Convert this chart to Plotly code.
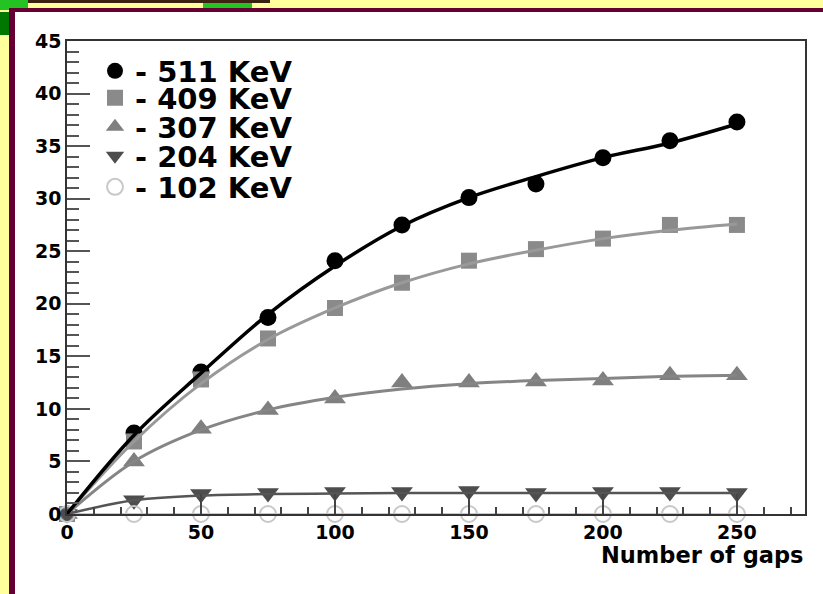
import plotly.graph_objects as go

# Measured signal vs. number of gaps, one series per photon energy
gaps = [0, 25, 50, 75, 100, 125, 150, 175, 200, 225, 250]

labels = ["- 511 KeV", "- 409 KeV", "- 307 KeV", "- 204 KeV", "- 102 KeV"]

pts_511 = [0, 7.7, 13.5, 18.7, 24.1, 27.5, 30.1, 31.4, 33.9, 35.5, 37.3]
pts_409 = [0, 6.9, 12.8, 16.7, 19.6, 22.0, 24.1, 25.2, 26.2, 27.5, 27.5]
pts_307 = [0, 5.0, 8.1, 9.9, 11.0, 12.5, 12.5, 12.6, 12.7, 13.2, 13.2]
pts_204 = [0, 1.3, 1.9, 2.0, 2.1, 2.1, 2.2, 2.0, 2.1, 2.1, 2.0]
pts_102 = [0, 0, 0, 0, 0, 0, 0, 0, 0, 0, 0]

# Fitted curves, sampled at the same gap counts
fit_511 = [0, 7.5, 13.4, 19.0, 23.6, 27.4, 30.1, 32.1, 33.9, 35.3, 37.1]
fit_409 = [0, 6.9, 12.4, 16.6, 19.6, 22.0, 23.8, 25.1, 26.2, 27.0, 27.6]
fit_307 = [0, 5.0, 8.0, 9.9, 11.1, 11.9, 12.4, 12.7, 12.9, 13.1, 13.2]
fit_204 = [0, 1.3, 1.75, 1.9, 1.95, 2.0, 2.0, 2.0, 2.0, 2.0, 2.0]
fit_102 = [0, 0, 0, 0, 0, 0, 0, 0, 0, 0, 0]

points = [pts_511, pts_409, pts_307, pts_204, pts_102]
fits = [fit_511, fit_409, fit_307, fit_204, fit_102]

marker_styles = [
    dict(symbol="circle", color="#000000", size=17),
    dict(symbol="square", color="#8a8a8a", size=16),
    dict(symbol="triangle-up", color="#7f7f7f", size=19),
    dict(symbol="triangle-down", color="#4d4d4d", size=19),
    dict(symbol="circle-open", color="#c8c8c8", size=16, line=dict(width=2, color="#c8c8c8")),
]
line_styles = [
    dict(color="#000000", width=3.5),
    dict(color="#999999", width=3),
    dict(color="#858585", width=3),
    dict(color="#555555", width=2.5),
    dict(color="#c8c8c8", width=2),
]

W, H = 823, 594
L, R, T, B = 67, 805, 41, 514


def px_x(px):
    return (px - L) / (R - L)


def px_y(py):
    return (B - py) / (B - T)


fig = go.Figure()

legend_names = ["legend", "legend2", "legend3", "legend4", "legend5"]

for i in range(5):
    fig.add_trace(go.Scatter(
        x=gaps, y=points[i], mode="markers", name=labels[i],
        marker=marker_styles[i], legend=legend_names[i], cliponaxis=False,
    ))

for i in reversed(range(5)):
    fig.add_trace(go.Scatter(
        x=gaps, y=fits[i], mode="lines", line=dict(shape="spline", smoothing=1.0, **line_styles[i]),
        showlegend=False, hoverinfo="skip",
    ))

legend_font = dict(family="DejaVu Sans", size=29, color="#000000", weight="bold")
row_centres = [71, 98, 127, 156, 187]
legend_cfg = {}
for name, cy in zip(legend_names, row_centres):
    legend_cfg[name] = dict(
        x=px_x(95), y=px_y(cy), xanchor="left", yanchor="middle",
        bgcolor="rgba(0,0,0,0)", borderwidth=0, font=legend_font,
        itemsizing="trace",
    )

tick_font = dict(family="DejaVu Sans", size=19, color="#000000", weight="bold")

shapes = []


def rect(x0, y0, x1, y1, color):
    shapes.append(dict(type="rect", xref="paper", yref="paper",
                       x0=px_x(x0), x1=px_x(x1), y0=px_y(y0), y1=px_y(y1),
                       fillcolor=color, line=dict(width=0), layer="below"))


# Slide frame around the chart
rect(0, 0, W, 8, "#ffff9c")
rect(0, 0, 9, H, "#ffff9c")
rect(28, 0, 270, 3, "#3b2210")
rect(0, 0, 28, 10, "#22c322")
rect(203, 3, 252, 8, "#22c322")
rect(0, 12, 9, 35, "#007700")
rect(9, 8, W, 12, "#660033")
rect(9, 8, 15, H, "#660033")

fig.update_layout(
    width=W, height=H,
    margin=dict(l=L, r=W - R, t=T, b=H - B),
    paper_bgcolor="#ffffff", plot_bgcolor="#ffffff",
    shapes=shapes,
    annotations=[dict(
        text="Number of gaps", xref="paper", yref="paper",
        x=1.0, y=px_y(555), xanchor="right", yanchor="middle", showarrow=False,
        font=dict(family="DejaVu Sans", size=22.5, color="#000000", weight="bold"),
    )],
    **legend_cfg,
)

fig.update_xaxes(
    range=[0, 275.4], tickvals=[0, 50, 100, 150, 200, 250],
    ticks="inside", ticklen=20, tickwidth=1.5, tickcolor="#444444",
    minor=dict(dtick=10, ticks="inside", ticklen=7, tickwidth=1.5, tickcolor="#444444"),
    showgrid=False, zeroline=False, showline=True, linecolor="#333333", linewidth=1.5,
    mirror=True, tickfont=tick_font,
)
fig.update_yaxes(
    range=[0, 45], tickvals=[0, 5, 10, 15, 20, 25, 30, 35, 40, 45],
    ticks="inside", ticklen=23, tickwidth=1.5, tickcolor="#555555",
    minor=dict(dtick=1, ticks="inside", ticklen=12, tickwidth=1.5, tickcolor="#555555"),
    showgrid=False, zeroline=False, showline=True, linecolor="#333333", linewidth=1.5,
    mirror=True, tickfont=tick_font,
)

fig.write_html("out.html")
